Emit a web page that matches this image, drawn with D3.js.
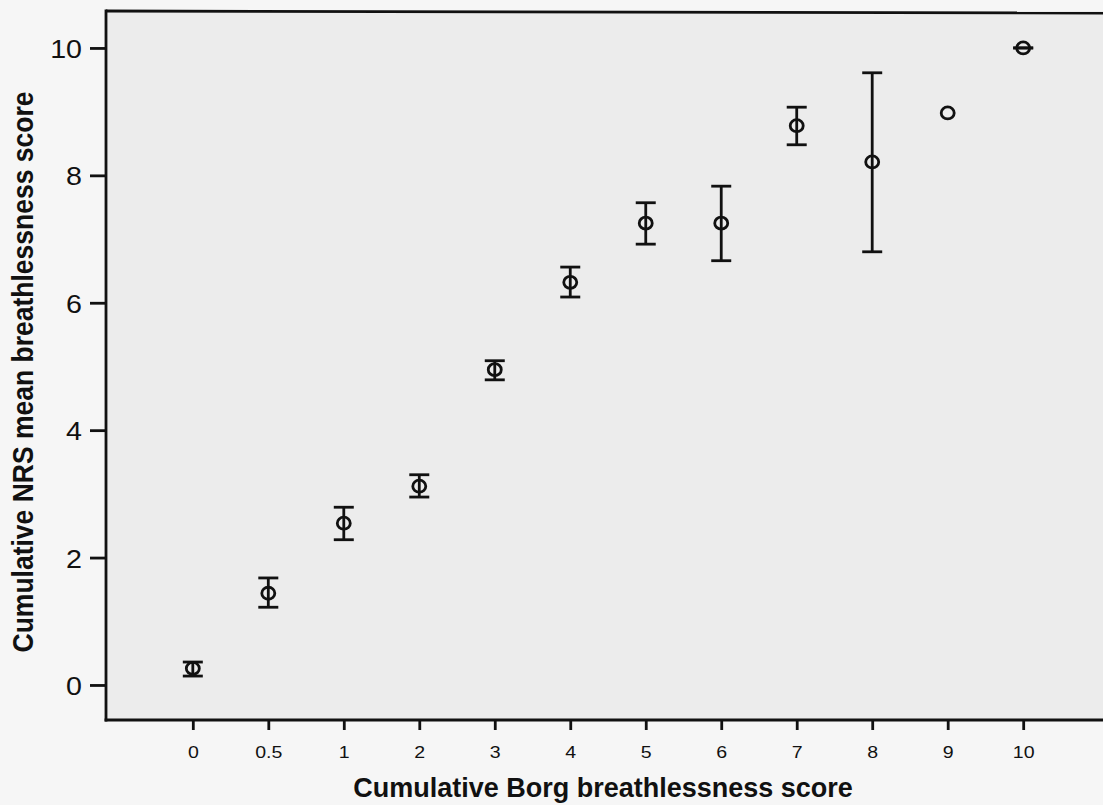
<!DOCTYPE html>
<html>
<head>
<meta charset="utf-8">
<script src="https://cdn.jsdelivr.net/npm/d3@7"></script>
<style>
  html, body { margin: 0; padding: 0; background: #f6f6f6; }
  svg { display: block; }
  text { font-family: "Liberation Sans", Arial, sans-serif; fill: #111; }
</style>
</head>
<body>
<svg id="chart" width="1103" height="805"></svg>
<script>
// Cumulative Borg score categories
const borgCategories = ["0", "0.5", "1", "2", "3", "4", "5", "6", "7", "8", "9", "10"];
// Mean cumulative NRS score per Borg category
const nrsMean  = [0.26, 1.44, 2.54, 3.12, 4.95, 6.32, 7.25, 7.25, 8.78, 8.21, 8.98, 10.0];
// Error bar limits (null where no bar is drawn)
const nrsLower = [0.14, 1.22, 2.28, 2.95, 4.79, 6.09, 6.92, 6.66, 8.48, 6.80, null, 10.0];
const nrsUpper = [0.36, 1.68, 2.79, 3.30, 5.09, 6.56, 7.57, 7.83, 9.07, 9.61, null, 10.0];
const yTicks = [0, 2, 4, 6, 8, 10];

const svg = d3.select("#chart");
const W = 1103, H = 805;

const plot = { left: 106, right: 1110, top: 11, bottom: 720 };
const ink = "#111";

const x = d3.scalePoint()
  .domain(borgCategories)
  .range([plot.left, plot.right])
  .padding(1.15);

const y = d3.scaleLinear()
  .domain([-0.55, 10.58])
  .range([plot.bottom, plot.top]);

// Plot panel background
svg.append("rect")
  .attr("x", plot.left).attr("y", plot.top)
  .attr("width", plot.right - plot.left).attr("height", plot.bottom - plot.top)
  .attr("fill", "#ececec");

// Frame: top line
svg.append("line")
  .attr("x1", plot.left).attr("x2", plot.right)
  .attr("y1", plot.top).attr("y2", plot.top + 2)
  .attr("stroke", ink).attr("stroke-width", 2.8);

// Y axis
const yAxis = svg.append("g")
  .attr("transform", `translate(${plot.left},0)`)
  .call(d3.axisLeft(y).tickValues(yTicks).tickSize(16).tickFormat(d3.format("d")));
yAxis.select(".domain").remove();
yAxis.append("line")
  .attr("x1", 0).attr("x2", 0).attr("y1", plot.top - 1.4).attr("y2", plot.bottom + 1.4)
  .attr("stroke", ink).attr("stroke-width", 2.8);
yAxis.selectAll(".tick line").attr("stroke", ink).attr("stroke-width", 2.8);
yAxis.selectAll(".tick text")
  .attr("x", 0).attr("dy", "0.36em")
  .attr("transform", "translate(-24,0) scale(1.08,1)")
  .style("font-size", "26.5px").attr("fill", ink);

// X axis
const xAxis = svg.append("g")
  .attr("transform", `translate(0,${plot.bottom})`)
  .call(d3.axisBottom(x).tickSize(10));
xAxis.select(".domain").remove();
xAxis.append("line")
  .attr("x1", plot.left - 1.4).attr("x2", plot.right)
  .attr("y1", 0).attr("y2", 0)
  .attr("stroke", ink).attr("stroke-width", 2.8);
xAxis.selectAll(".tick line").attr("stroke", ink).attr("stroke-width", 2.8);
xAxis.selectAll(".tick text")
  .attr("y", 0).attr("dy", 0)
  .attr("transform", "translate(0,38) scale(1.15,1)")
  .style("font-size", "17px").attr("fill", ink);

// Axis titles
svg.append("text")
  .attr("transform", "translate(603,797)")
  .attr("text-anchor", "middle")
  .style("font-size", "27px").style("font-weight", "bold")
  .text("Cumulative Borg breathlessness score");

svg.append("text")
  .attr("transform", `translate(33,372) scale(1.1,1) rotate(-90)`)
  .attr("text-anchor", "middle")
  .style("font-size", "26.5px").style("font-weight", "bold")
  .text("Cumulative NRS mean breathlessness score");

// Error bars and mean markers
const rows = borgCategories.map((c, i) => ({ c, m: nrsMean[i], lo: nrsLower[i], hi: nrsUpper[i] }));
const capHalf = 10;
const g = svg.append("g").attr("stroke", ink).attr("stroke-width", 2.8).attr("fill", "none");

const withBars = rows.filter(d => d.lo !== null);
g.selectAll("line.stem").data(withBars).join("line")
  .attr("class", "stem")
  .attr("x1", d => x(d.c)).attr("x2", d => x(d.c))
  .attr("y1", d => y(d.hi)).attr("y2", d => y(d.lo));
g.selectAll("line.capHi").data(withBars).join("line")
  .attr("class", "capHi")
  .attr("x1", d => x(d.c) - capHalf).attr("x2", d => x(d.c) + capHalf)
  .attr("y1", d => y(d.hi)).attr("y2", d => y(d.hi));
g.selectAll("line.capLo").data(withBars).join("line")
  .attr("class", "capLo")
  .attr("x1", d => x(d.c) - capHalf).attr("x2", d => x(d.c) + capHalf)
  .attr("y1", d => y(d.lo)).attr("y2", d => y(d.lo));

g.selectAll("ellipse").data(rows).join("ellipse")
  .attr("cx", d => x(d.c)).attr("cy", d => y(d.m)).attr("rx", 6.5).attr("ry", 6);
</script>
</body>
</html>
